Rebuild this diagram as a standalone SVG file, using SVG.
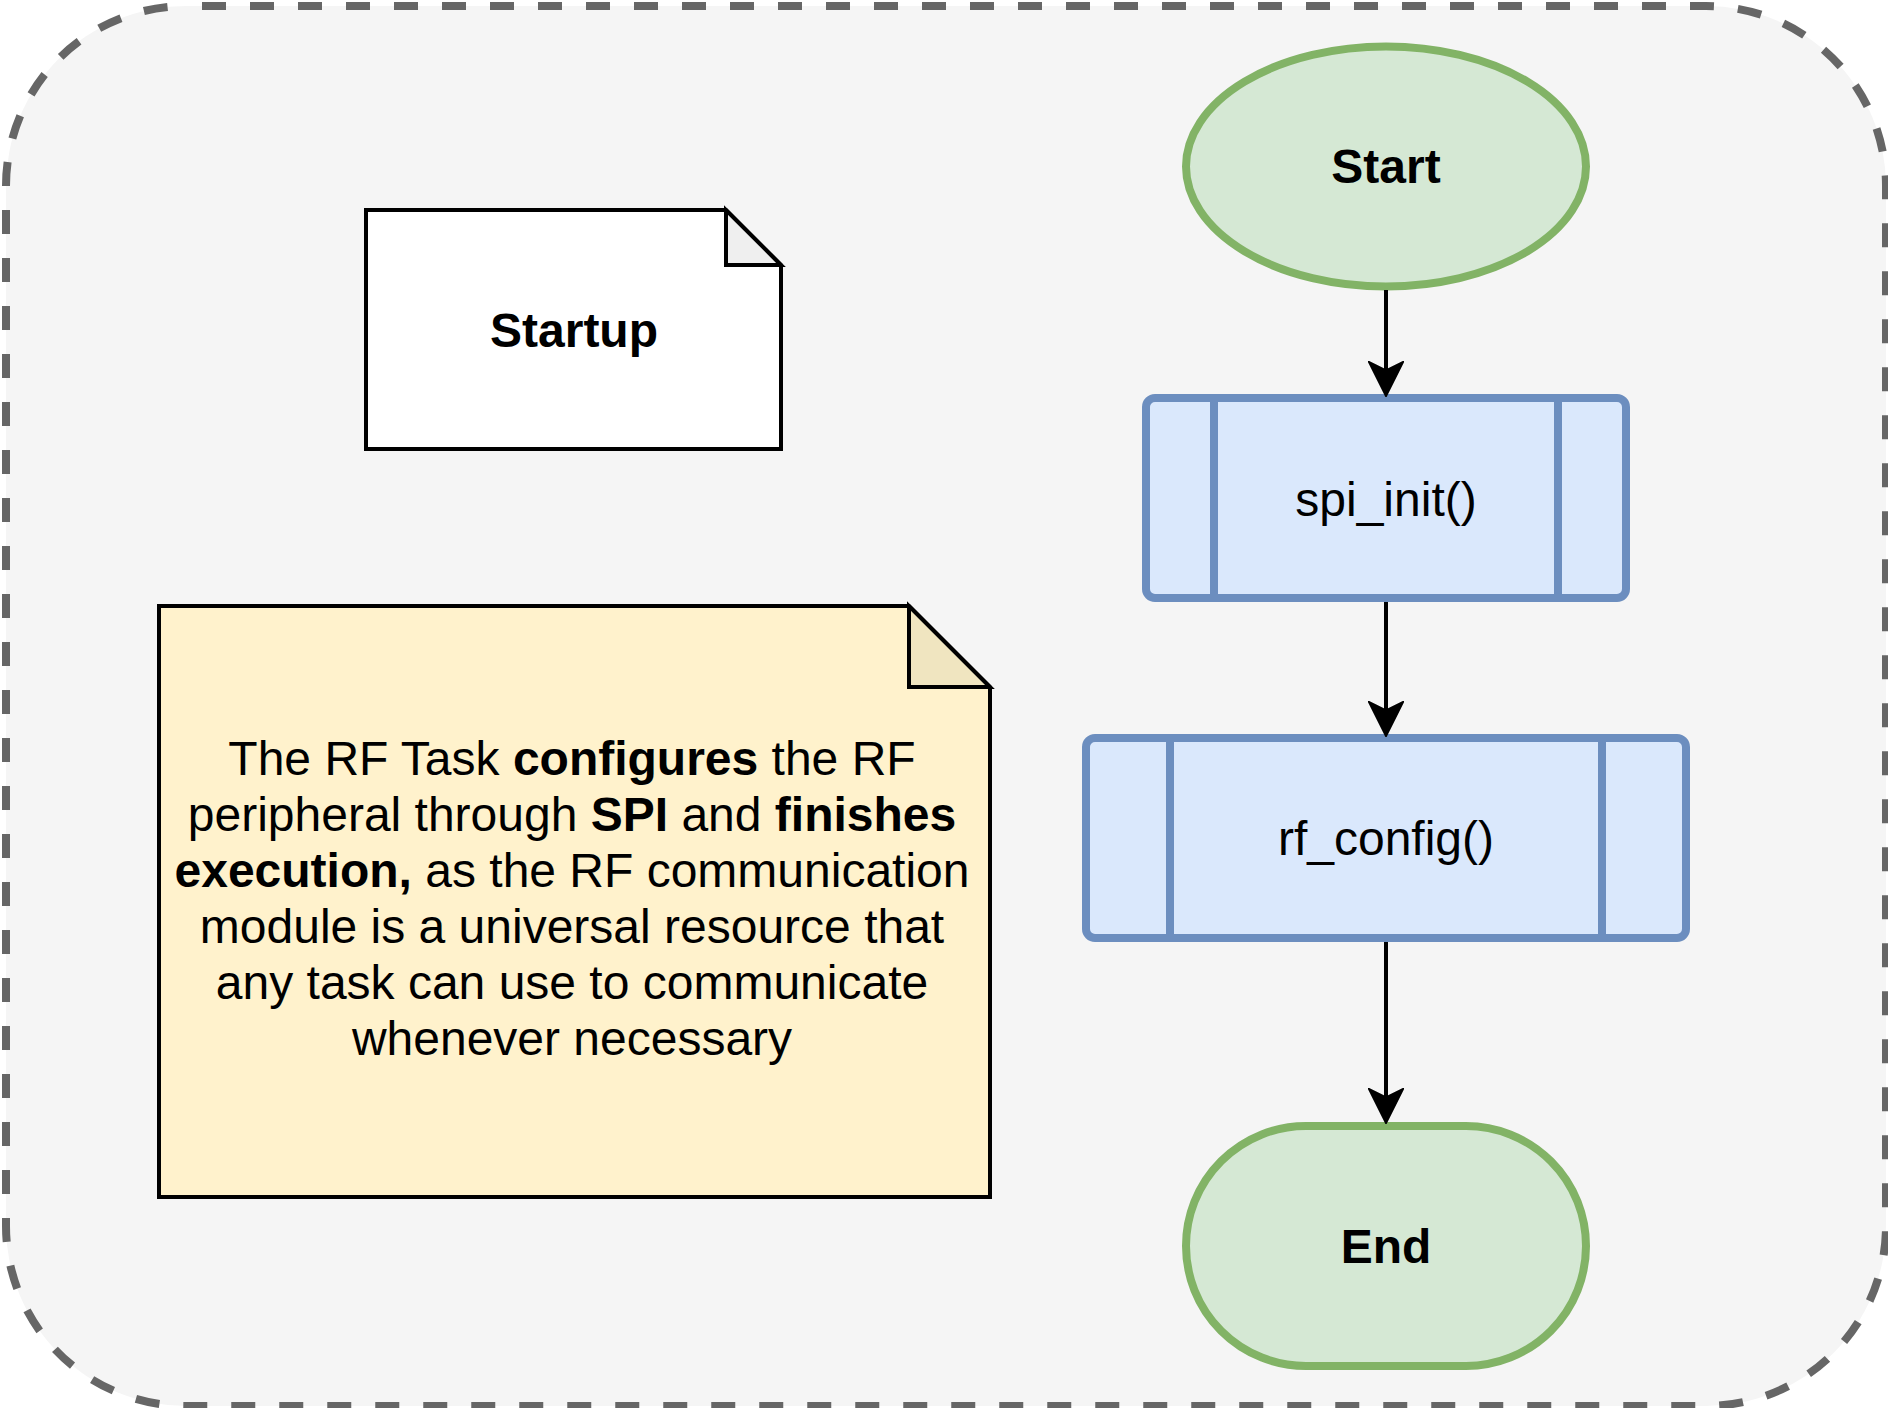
<svg xmlns="http://www.w3.org/2000/svg" width="1888" height="1408" viewBox="0 0 1888 1408">
  <defs>
    <style>
      .t { font-family: "Liberation Sans", Arial, Helvetica, sans-serif; fill: #000; text-anchor: middle; }
      .big { font-size: 48px; }
      .note { font-size: 48px; }
      .b { font-weight: bold; }
      .term { fill: #d5e8d4; stroke: #82b366; stroke-width: 8; }
      .proc { fill: #dae8fc; stroke: #6c8ebf; stroke-width: 8; }
      .edge { fill: none; stroke: #000; stroke-width: 4; }
    </style>
    <marker id="arrow" markerUnits="userSpaceOnUse" viewBox="0 0 36 36" markerWidth="36" markerHeight="36" refX="9" refY="18" orient="auto">
      <path d="M1,1 L35,18 L1,35 L9.5,18 Z" fill="#000" stroke="#000" stroke-width="2" stroke-linejoin="miter"/>
    </marker>
  </defs>

  <g id="container">
    <rect x="6" y="6" width="1880" height="1400" rx="180" ry="180" fill="#f5f5f5" stroke="#666666" stroke-width="8" stroke-dasharray="24 24" stroke-dashoffset="32"/>
  </g>

  <g id="startup-note">
    <path d="M366,210 L726,210 L781,265 L781,449 L366,449 Z" fill="#ffffff" stroke="#000" stroke-width="4" stroke-linejoin="miter"/>
    <path d="M726,210 L726,265 L781,265 Z" fill="#efefef" stroke="#000" stroke-width="4" stroke-linejoin="miter"/>
    <text class="t big b" x="574" y="347">Startup</text>
  </g>

  <g id="description-note">
    <path d="M159,606 L909,606 L990,687 L990,1197 L159,1197 Z" fill="#fff2cc" stroke="#000" stroke-width="4" stroke-linejoin="miter"/>
    <path d="M909,606 L909,687 L990,687 Z" fill="#f0e5c0" stroke="#000" stroke-width="4" stroke-linejoin="miter"/>
    <text class="t note" x="572" y="775">The RF Task <tspan class="b">configures</tspan> the RF</text>
    <text class="t note" x="572" y="831">peripheral through <tspan class="b">SPI</tspan> and <tspan class="b">finishes</tspan></text>
    <text class="t note" x="572" y="887"><tspan class="b">execution,</tspan> as the RF communication</text>
    <text class="t note" x="572" y="943">module is a universal resource that</text>
    <text class="t note" x="572" y="999">any task can use to communicate</text>
    <text class="t note" x="572" y="1055">whenever necessary</text>
  </g>

  <g id="start">
    <ellipse class="term" cx="1386" cy="166.5" rx="200" ry="120"/>
    <text class="t big b" x="1386" y="183">Start</text>
  </g>

  <g id="spi-init">
    <rect class="proc" x="1146" y="398" width="480" height="200" rx="9" ry="9"/>
    <line x1="1214" y1="398" x2="1214" y2="598" stroke="#6c8ebf" stroke-width="8"/>
    <line x1="1558" y1="398" x2="1558" y2="598" stroke="#6c8ebf" stroke-width="8"/>
    <text class="t big" x="1386" y="516">spi_init()</text>
  </g>

  <g id="rf-config">
    <rect class="proc" x="1086" y="738" width="600" height="200" rx="9" ry="9"/>
    <line x1="1170" y1="738" x2="1170" y2="938" stroke="#6c8ebf" stroke-width="8"/>
    <line x1="1602" y1="738" x2="1602" y2="938" stroke="#6c8ebf" stroke-width="8"/>
    <text class="t big" x="1386" y="855">rf_config()</text>
  </g>

  <g id="end">
    <rect class="term" x="1186" y="1126" width="400" height="240" rx="120" ry="120"/>
    <text class="t big b" x="1386" y="1263">End</text>
  </g>

  <g id="connectors">
    <path class="edge" d="M1386,290 L1386,370" marker-end="url(#arrow)"/>
    <path class="edge" d="M1386,602 L1386,710" marker-end="url(#arrow)"/>
    <path class="edge" d="M1386,942 L1386,1097" marker-end="url(#arrow)"/>
  </g>
</svg>
